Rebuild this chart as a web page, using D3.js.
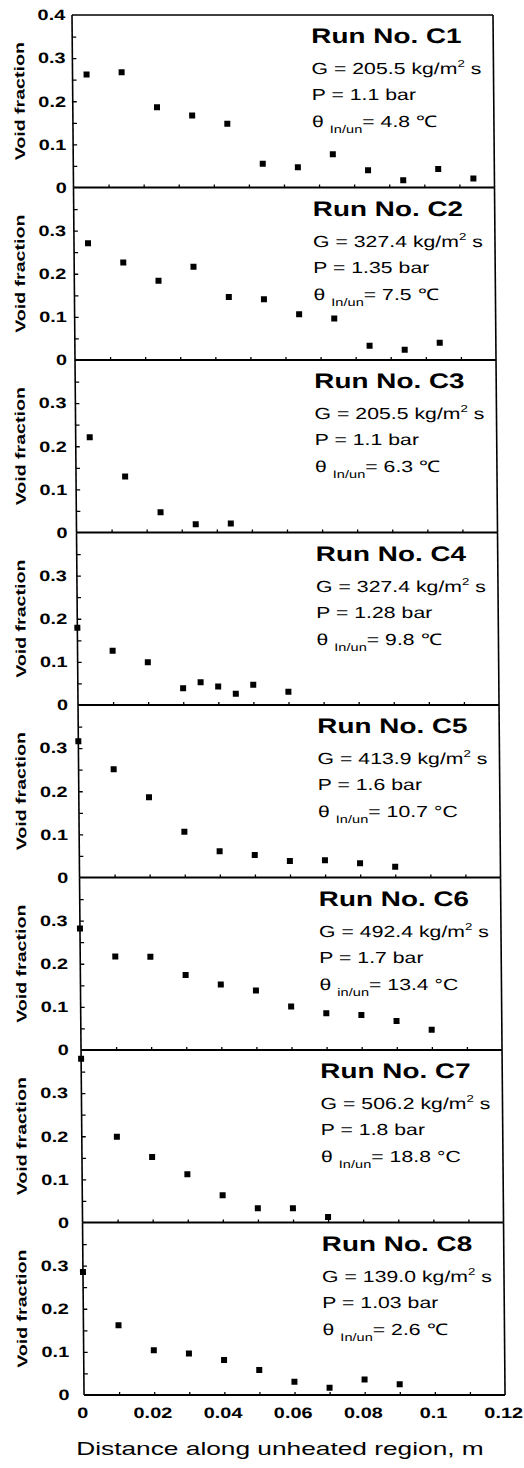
<!DOCTYPE html>
<html>
<head>
<meta charset="utf-8">
<script src="https://cdn.jsdelivr.net/npm/d3@7"></script>
<style>
  body { margin: 0; background: #fff; }
  text { font-family: "Liberation Sans", Arial, sans-serif; fill: #000; }
</style>
</head>
<body>
<div id="chart"></div>
<script>
// Run parameters, one entry per panel.
const runNames   = ["C1", "C2", "C3", "C4", "C5", "C6", "C7", "C8"];
const massFlux   = ["205.5", "327.4", "205.5", "327.4", "413.9", "492.4", "506.2", "139.0"];
const pressure   = ["1.1", "1.35", "1.1", "1.28", "1.6", "1.7", "1.8", "1.03"];
const subcooling = ["4.8", "7.5", "6.3", "9.8", "10.7", "13.4", "18.8", "2.6"];
const tempUnit   = ["\u2103", "\u2103", "\u2103", "\u2103", "\u00B0C", "\u00B0C", "\u00B0C", "\u2103"];
const subLabel   = ["In/un", "In/un", "In/un", "In/un", "In/un", "in/un", "In/un", "In/un"];

const distC1 = [0.004, 0.014, 0.024, 0.034, 0.044, 0.054, 0.064, 0.074, 0.084, 0.094, 0.104, 0.114];
const voidC1 = [0.262, 0.267, 0.186, 0.167, 0.148, 0.055, 0.047, 0.077, 0.040, 0.017, 0.043, 0.021];
const distC2 = [0.004, 0.014, 0.024, 0.034, 0.044, 0.054, 0.064, 0.074, 0.084, 0.094, 0.104];
const voidC2 = [0.271, 0.226, 0.184, 0.216, 0.146, 0.141, 0.106, 0.096, 0.033, 0.024, 0.040];
const distC3 = [0.004, 0.014, 0.024, 0.034, 0.044];
const voidC3 = [0.221, 0.130, 0.047, 0.019, 0.021];
const distC4 = [0, 0.01, 0.02, 0.03, 0.035, 0.04, 0.045, 0.05, 0.06];
const voidC4 = [0.179, 0.126, 0.099, 0.039, 0.053, 0.043, 0.026, 0.047, 0.031];
const distC5 = [0, 0.01, 0.02, 0.03, 0.04, 0.05, 0.06, 0.07, 0.08, 0.09];
const voidC5 = [0.316, 0.251, 0.186, 0.106, 0.061, 0.052, 0.038, 0.040, 0.033, 0.025];
const distC6 = [0, 0.01, 0.02, 0.03, 0.04, 0.05, 0.06, 0.07, 0.08, 0.09, 0.10];
const voidC6 = [0.282, 0.217, 0.216, 0.174, 0.152, 0.138, 0.101, 0.085, 0.081, 0.067, 0.047];
const distC7 = [0, 0.01, 0.02, 0.03, 0.04, 0.05, 0.06, 0.07];
const voidC7 = [0.380, 0.199, 0.152, 0.112, 0.063, 0.033, 0.033, 0.013];
const distC8 = [0, 0.01, 0.02, 0.03, 0.04, 0.05, 0.06, 0.07, 0.08, 0.09];
const voidC8 = [0.285, 0.162, 0.104, 0.096, 0.081, 0.058, 0.031, 0.017, 0.036, 0.025];

const distances = [distC1, distC2, distC3, distC4, distC5, distC6, distC7, distC8];
const voids     = [voidC1, voidC2, voidC3, voidC4, voidC5, voidC6, voidC7, voidC8];

// Axis ticks and labels.
const yTickValues = [0, 0.1, 0.2, 0.3];
const yTickLabels = ["0", "0.1", "0.2", "0.3"];
const yTopValue = 0.4, yTopLabel = "0.4";
const xTickValues = [0, 0.02, 0.04, 0.06, 0.08, 0.1, 0.12];
const xTickLabels = ["0", "0.02", "0.04", "0.06", "0.08", "0.1", "0.12"];

// Layout.
const chartWidth = 524, chartHeight = 1468;
const marginLeft = 72, marginTop = 15;
const W = 421, H = 172.5;
const SX = 1.33;           // the original lettering is wide
const skew = 0.5;          // the scanned frame leans a little
const lean = Math.tan(skew * Math.PI / 180);
const labelRight = 66;     // right edge of the y tick labels (page x)

const x = d3.scaleLinear().domain([0, 0.12]).range([0, W]);
const y = d3.scaleLinear().domain([0, 0.4]).range([H, 0]);

const svg = d3.select("#chart").append("svg")
    .attr("width", chartWidth)
    .attr("height", chartHeight)
    .attr("viewBox", [0, 0, chartWidth, chartHeight]);

const root = svg.append("g")
    .attr("transform", `translate(${marginLeft},${marginTop}) skewX(${skew})`);

function wideText(g, px, py, size, weight) {
    return g.append("text")
        .attr("transform", `translate(${px},${py}) scale(${SX},1)`)
        .style("font-size", size + "px")
        .style("font-weight", weight);
}

runNames.forEach((name, i) => {
    const panel = root.append("g").attr("transform", `translate(0,${i * H})`);
    const midShift = (i * H + H / 2) * lean;   // how far the frame has leaned at this panel

    // Frame: side borders, baseline (and the top line on the first panel).
    panel.append("line").attr("x1", 0).attr("x2", 0).attr("y1", 0).attr("y2", H)
        .attr("stroke", "#000").attr("stroke-width", 1.6);
    panel.append("line").attr("x1", W).attr("x2", W).attr("y1", 0).attr("y2", H)
        .attr("stroke", "#000").attr("stroke-width", 1.6);
    panel.append("line").attr("x1", 0).attr("x2", W).attr("y1", y(0)).attr("y2", y(0))
        .attr("stroke", "#000").attr("stroke-width", 2);
    if (i === 0) {
        panel.append("line").attr("x1", 0).attr("x2", W).attr("y1", y(0.4)).attr("y2", y(0.4))
            .attr("stroke", "#000").attr("stroke-width", 1.6);
    }

    // Inward ticks on the left axis.
    panel.append("g")
        .call(d3.axisRight(y).tickValues([0.05, 0.1, 0.15, 0.2, 0.25, 0.3, 0.35]).tickSize(4).tickFormat(""))
        .call(g => g.select(".domain").remove())
        .call(g => g.selectAll("line").attr("stroke-width", 1.3));

    // Inward ticks along the baseline.
    panel.append("g")
        .attr("transform", `translate(0,${H})`)
        .call(d3.axisTop(x).tickValues(d3.range(1, 12).map(k => k / 100)).tickSize(3).tickFormat(""))
        .call(g => g.select(".domain").remove())
        .call(g => g.selectAll("line").attr("stroke-width", 1.3));

    // Tick labels on the left: these stay in a straight column on the page.
    const vals = i === 0 ? yTickValues.concat([yTopValue]) : yTickValues;
    const labs = i === 0 ? yTickLabels.concat([yTopLabel]) : yTickLabels;
    const pad = (marginLeft + midShift - labelRight - i * 0.4) / SX;
    panel.append("g")
        .call(d3.axisLeft(y).tickValues(vals).tickSize(0).tickPadding(pad)
            .tickFormat((d, k) => labs[k]))
        .call(g => g.select(".domain").remove())
        .call(g => g.selectAll("text")
            .attr("transform", `scale(${SX},1)`)
            .attr("fill", "#000")
            .style("font-family", "'Liberation Sans', Arial, sans-serif")
            .style("font-size", "15px")
            .style("font-weight", "bold"));

    // "Void fraction" label.
    panel.append("text")
        .attr("transform", `translate(${20 + i * 0.3 - marginLeft - midShift},${H / 2}) rotate(-90) scale(1.4,1)`)
        .attr("text-anchor", "middle")
        .attr("dominant-baseline", "central")
        .style("font-size", "14px")
        .style("font-weight", "bold")
        .text("Void fraction");

    // Data points.
    panel.append("g")
        .selectAll("rect")
        .data(distances[i].map((d, k) => [d, voids[i][k]]))
        .join("rect")
        .attr("x", d => x(d[0]) - 3)
        .attr("y", d => y(d[1]) - 3)
        .attr("width", 6)
        .attr("height", 6)
        .attr("fill", "#000");

    // Run annotation.
    const tx = 239;
    wideText(panel, tx, 28, 21, "bold").text("Run No. " + name);

    const g1 = wideText(panel, tx, 59, 16, "normal");
    g1.append("tspan").text("G = " + massFlux[i] + " kg/m");
    g1.append("tspan").attr("dy", -7).style("font-size", "10px").text("2");
    g1.append("tspan").attr("dy", 7).text(" s");

    wideText(panel, tx, 85, 16, "normal").text("P = " + pressure[i] + " bar");

    const g3 = wideText(panel, tx, 112, 16, "normal");
    g3.append("tspan").text("\u03B8 ");
    g3.append("tspan").attr("dy", 6).style("font-size", "11px").text(subLabel[i]);
    g3.append("tspan").attr("dy", -6).text("= " + subcooling[i] + " " + tempUnit[i]);
});

// Shared distance axis under the last panel.
const bottom = root.append("g").attr("transform", `translate(0,${runNames.length * H})`);
bottom.append("g")
    .call(d3.axisBottom(x).tickValues(xTickValues).tickSize(0).tickPadding(12)
        .tickFormat((d, k) => xTickLabels[k]))
    .call(g => g.select(".domain").remove())
    .call(g => g.selectAll("text")
        .attr("x", -2 / SX)
        .attr("transform", `scale(${SX},1)`)
        .attr("fill", "#000")
        .style("font-family", "'Liberation Sans', Arial, sans-serif")
        .style("font-size", "15px")
        .style("font-weight", "bold"));

svg.append("text")
    .attr("transform", `translate(280,${marginTop + runNames.length * H + 60}) scale(1.46,1)`)
    .attr("text-anchor", "middle")
    .style("font-size", "18px")
    .text("Distance along unheated region, m");
</script>
</body>
</html>
